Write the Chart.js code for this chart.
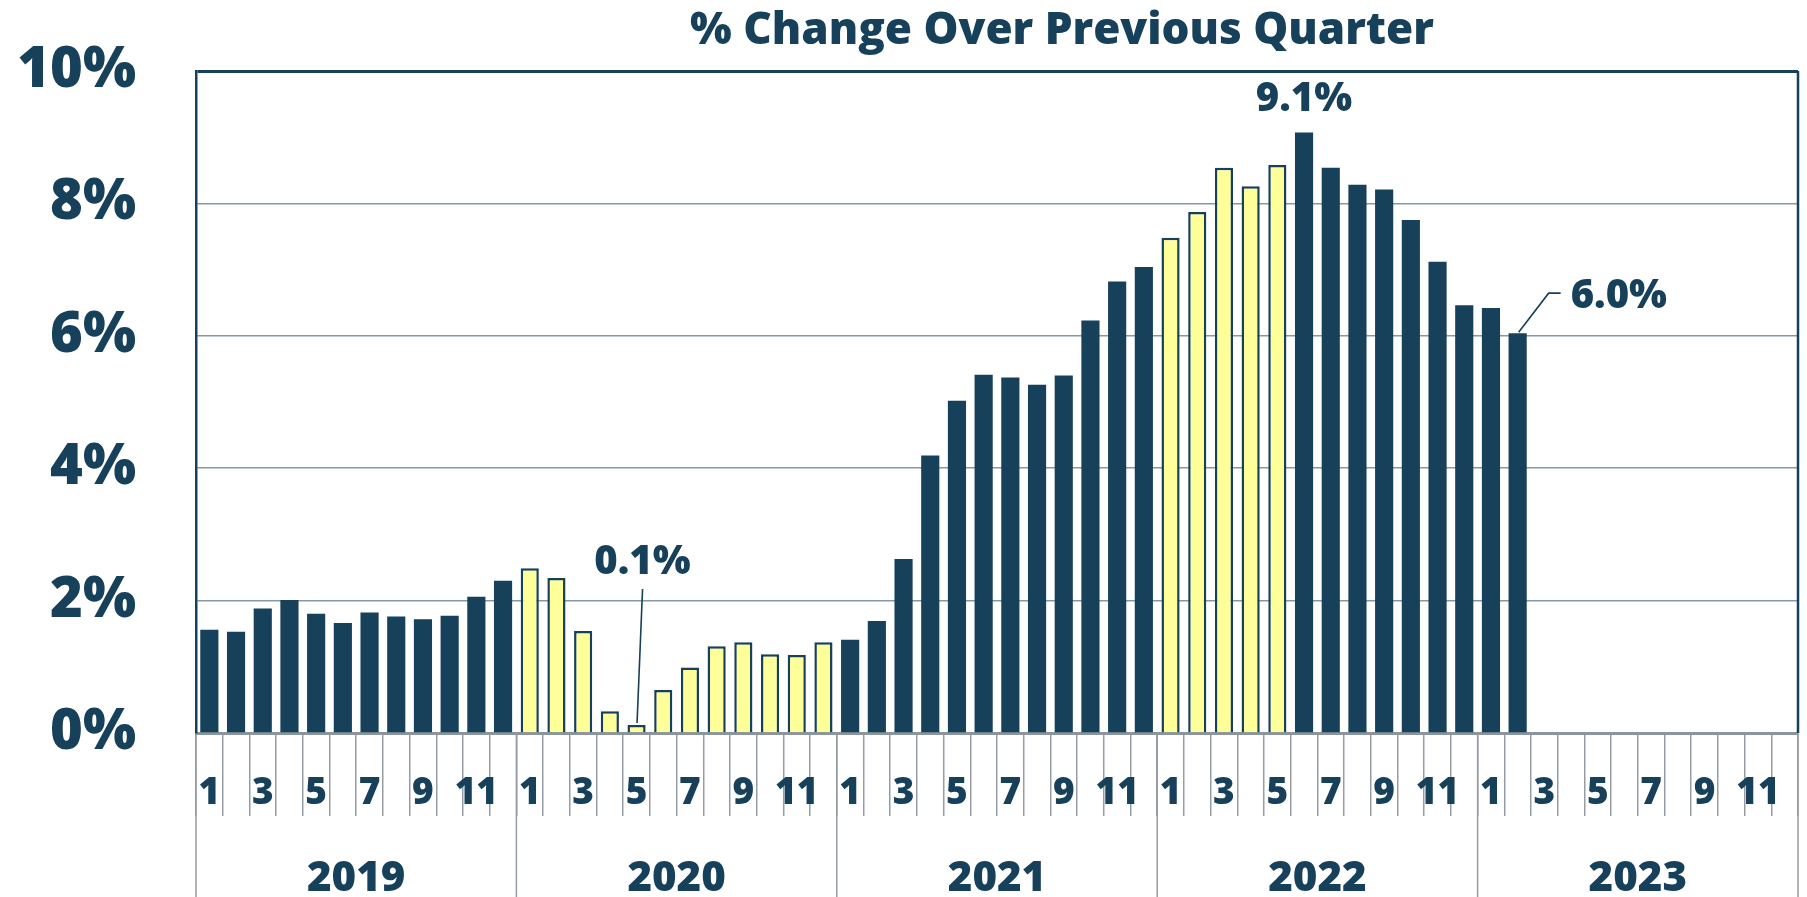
<!DOCTYPE html>
<html>
<head>
<meta charset="utf-8">
<script src="https://cdn.jsdelivr.net/npm/chart.js@4/dist/chart.umd.min.js"></script>
<style>
  html, body { margin: 0; padding: 0; background: #ffffff; }
  #wrap { width: 1807px; height: 897px; }
</style>
</head>
<body>
<div id="wrap"><canvas id="c" width="1807" height="897"></canvas></div>
<script>
// ---- data ----
const years = ["2019", "2020", "2021", "2022", "2023"];
const monthLabels = ["1","2","3","4","5","6","7","8","9","10","11","12"];
const values2019 = [1.56, 1.53, 1.88, 2.01, 1.80, 1.66, 1.82, 1.76, 1.72, 1.77, 2.06, 2.30];
const values2020 = [2.49, 2.34, 1.54, 0.33, 0.12, 0.65, 0.99, 1.31, 1.37, 1.19, 1.18, 1.37];
const values2021 = [1.41, 1.69, 2.63, 4.19, 5.02, 5.41, 5.37, 5.26, 5.40, 6.23, 6.82, 7.04];
const values2022 = [7.48, 7.87, 8.54, 8.26, 8.58, 9.07, 8.54, 8.28, 8.21, 7.75, 7.12, 6.46];
const values2023 = [6.42, 6.04, null, null, null, null, null, null, null, null, null, null];
const highlightMonths = ["2020-1","2020-2","2020-3","2020-4","2020-5","2020-6","2020-7","2020-8","2020-9","2020-10","2020-11","2020-12","2022-1","2022-2","2022-3","2022-4","2022-5"];
const yTicks = [0, 2, 4, 6, 8, 10];
const titleText = "% Change Over Previous Quarter";
const annotations = [
  { key: "2020-5", text: "0.1%" },
  { key: "2022-6", text: "9.1%" },
  { key: "2023-2", text: "6.0%" }
];

// ---- build ----
const NAVY = "#17405a";
const YELLOW = "#ffff99";
const GRID = "#8398a8";
const TICKGRAY = "#959ca3";
const FONT = "'Open Sans', 'Noto Sans', sans-serif";
const W = "800";

const allValues = [].concat(values2019, values2020, values2021, values2022, values2023);
const labels = [];
const keys = [];
years.forEach(y => monthLabels.forEach(m => { labels.push(m); keys.push(y + "-" + m); }));
const isHL = keys.map(k => highlightMonths.includes(k));
const bg = isHL.map(h => h ? YELLOW : NAVY);
const bw = isHL.map(h => h ? 2.5 : 0);

const overlay = {
  id: "overlay",
  afterDraw(chart) {
    const ctx = chart.ctx;
    const xs = chart.scales.x;
    const ca = chart.chartArea;
    const step = (xs.getPixelForValue(1) - xs.getPixelForValue(0));
    ctx.save();
    // year boundaries extended to bottom
    ctx.strokeStyle = TICKGRAY;
    ctx.lineWidth = 1.5;
    for (let i = 0; i <= years.length; i++) {
      const x = xs.getPixelForValue(0) - step / 2 + i * 12 * step;
      ctx.beginPath();
      ctx.moveTo(x, ca.bottom + 1);
      ctx.lineTo(x, chart.height);
      ctx.stroke();
    }
    // right border in plot
    ctx.strokeStyle = NAVY;
    ctx.lineWidth = 2.5;
    ctx.beginPath();
    ctx.moveTo(ca.right, ca.top);
    ctx.lineTo(ca.right, ca.bottom);
    ctx.stroke();
    // year labels
    ctx.fillStyle = NAVY;
    ctx.font = W + " 42px " + FONT;
    ctx.textAlign = "center";
    ctx.textBaseline = "middle";
    years.forEach((y, i) => {
      const x = xs.getPixelForValue(0) - step / 2 + (i * 12 + 6) * step;
      ctx.fillText(y, x, 879);
    });
    // title
    ctx.font = W + " 44px " + FONT;
    ctx.textBaseline = "alphabetic";
    ctx.fillText(titleText, 1062, 44);
    // annotations
    const meta = chart.getDatasetMeta(0);
    ctx.font = W + " 40px " + FONT;
    ctx.strokeStyle = NAVY;
    ctx.lineWidth = 1.6;
    annotations.forEach(a => {
      const idx = keys.indexOf(a.key);
      const bar = meta.data[idx];
      const bx = bar.x, by = bar.y;
      if (a.key === "2020-5") {
        ctx.textAlign = "center"; ctx.textBaseline = "middle";
        ctx.fillText(a.text, bx + 6, by - 162);
        ctx.beginPath(); ctx.moveTo(bx + 6, by - 136); ctx.lineTo(bx + 0.5, by - 2); ctx.stroke();
      } else if (a.key === "2022-6") {
        ctx.textAlign = "center"; ctx.textBaseline = "middle";
        ctx.fillText(a.text, bx, by - 33);
      } else {
        ctx.textAlign = "left"; ctx.textBaseline = "middle";
        ctx.fillText(a.text, bx + 53, by - 37);
        ctx.beginPath(); ctx.moveTo(bx + 1, by - 1); ctx.lineTo(bx + 31, by - 40); ctx.lineTo(bx + 43, by - 40); ctx.stroke();
      }
    });
    ctx.restore();
  }
};

new Chart(document.getElementById("c"), {
  type: "bar",
  data: {
    labels: labels,
    datasets: [{
      data: allValues,
      backgroundColor: bg,
      borderColor: NAVY,
      borderWidth: bw,
      barPercentage: 0.68,
      categoryPercentage: 1.0
    }]
  },
  options: {
    responsive: false,
    animation: false,
    devicePixelRatio: 1,
    layout: { padding: { top: 71, right: 9, left: 0, bottom: 0 } },
    plugins: { legend: { display: false }, tooltip: { enabled: false }, title: { display: false } },
    scales: {
      x: {
        type: "category",
        offset: true,
        grid: {
          offset: true,
          drawOnChartArea: false,
          drawTicks: true,
          tickLength: 83,
          color: TICKGRAY,
          lineWidth: 1.5
        },
        border: { display: true, color: "#8a959e", width: 3 },
        ticks: {
          autoSkip: false,
          maxRotation: 0,
          minRotation: 0,
          padding: -45,
          color: NAVY,
          font: { family: FONT, size: 37, weight: W },
          callback: function (v, i) { const l = labels[i]; return (parseInt(l) % 2 === 1) ? l : ""; }
        },
        afterFit: function (s) { s.height = 164; s.paddingLeft = 0; s.paddingRight = 0; }
      },
      y: {
        min: 0, max: 10,
        afterBuildTicks: function (s) { s.ticks = yTicks.map(v => ({ value: v })); },
        grid: {
          drawTicks: false,
          color: c => c.tick && c.tick.value === 10 ? NAVY : GRID,
          lineWidth: c => c.tick && c.tick.value === 10 ? 3 : 1.5
        },
        border: { display: true, color: NAVY, width: 2.5 },
        ticks: {
          padding: 60,
          color: NAVY,
          font: { family: FONT, size: 56, weight: W },
          callback: v => v + "%"
        },
        afterFit: function (s) { s.width = 196; s.paddingTop = 0; s.paddingBottom = 0; }
      }
    }
  },
  plugins: [overlay]
});
</script>
</body>
</html>
